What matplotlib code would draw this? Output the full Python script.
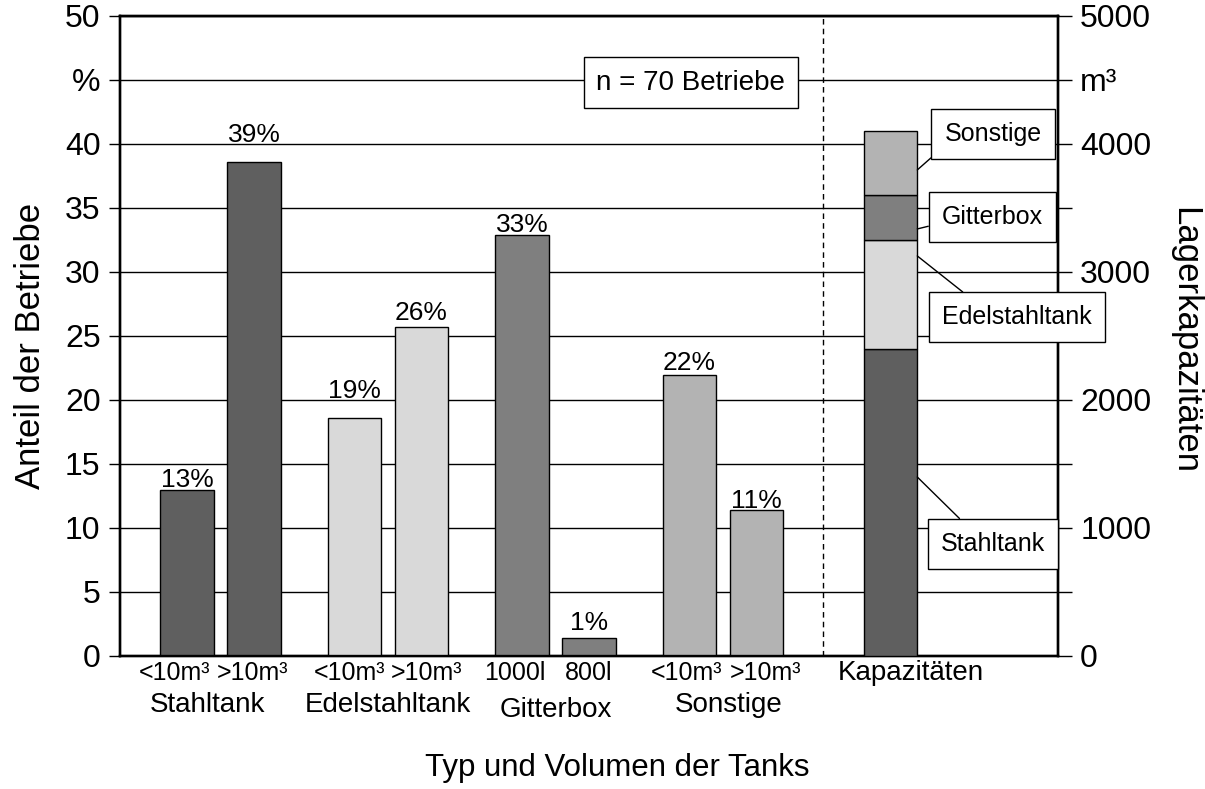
import matplotlib
matplotlib.use("Agg")
import matplotlib.pyplot as plt
import numpy as np

plt.rcParams['font.family'] = ['Liberation Sans', 'DejaVu Sans']

# Data: share of farms (%) per tank type and volume
groups = ['Stahltank', 'Edelstahltank', 'Gitterbox', 'Sonstige']
sub_labels = ['<10m³', '>10m³', '<10m³', '>10m³', '1000l', '800l', '<10m³', '>10m³']
shares = [13.0, 38.6, 18.6, 25.7, 32.9, 1.4, 21.95, 11.4]

# Storage capacity (m³), stacked in this order
cap_types = ['Stahltank', 'Edelstahltank', 'Gitterbox', 'Sonstige']
capacity = [2400, 850, 350, 500]

colors = {'Stahltank': '#5f5f5f', 'Edelstahltank': '#d9d9d9',
          'Gitterbox': '#7f7f7f', 'Sonstige': '#b3b3b3'}

# layout
group_start = np.array([0.0, 2.5, 5.0, 7.5])
bar_x = np.concatenate([[g, g + 1] for g in group_start])
bar_colors = [colors[g] for g in groups for _ in range(2)]
kap_x = 10.5
width = 0.8
label_off = [1.5, 14, 14, 5, 2, 6, 3.5, 1.5]
sub_nudge = [-0.19, -0.02, -0.08, 0.07, -0.11, -0.01, -0.05, 0.14]
group_nudge = [-0.19, 0.0, 0.0, 0.09]
group_dy = [35, 35, 39, 35]

fig = plt.figure(figsize=(12.05, 7.89), dpi=100)
ax = fig.add_axes([0.0996, 0.1686, 0.7784, 0.8112])
ax2 = ax.twinx()

ax.set_xlim(-1, 13)
ax.set_ylim(0, 50)
ax2.set_ylim(0, 5000)

ax.set_axisbelow(True)
ax.yaxis.grid(True, color='black', linewidth=1.0)

bars = ax.bar(bar_x, shares, width=width, color=bar_colors,
              edgecolor='black', linewidth=1.0, zorder=3)
for x, v, off in zip(bar_x, shares, label_off):
    ax.annotate(f'{round(v)}%', (x, v), xytext=(0, off), textcoords='offset points',
                ha='center', va='baseline', fontsize=19, zorder=4)

# stacked capacity bar on the right axis
bottom = 0
for t, c in zip(cap_types, capacity):
    ax2.bar(kap_x, c, width=width, bottom=bottom, color=colors[t],
            edgecolor='black', linewidth=1.0, zorder=3)
    bottom += c

# callout boxes: (type, anchor value on bar, text pos, relpos)
callouts = [
    ('Sonstige', 3797, (12.03, 4078), (0.0, 0.0)),
    ('Gitterbox', 3336, (12.02, 3426), (0.0, 0.27)),
    ('Edelstahltank', 3125, (12.39, 2645), (0.25, 1.0)),
    ('Stahltank', 1398, (12.03, 875), (0.31, 1.0)),
]
for name, yv, pos, rp in callouts:
    ax2.annotate(name, (kap_x + width / 2, yv), xytext=pos, textcoords='data',
                 ha='center', va='center', fontsize=18, annotation_clip=False,
                 bbox=dict(boxstyle='square,pad=0.52', fc='white', ec='black', lw=1.0),
                 arrowprops=dict(arrowstyle='-', color='black', lw=1.0,
                                 shrinkA=0, shrinkB=0, relpos=rp),
                 zorder=6)

ax.axvline(9.5, color='black', linestyle=(0, (4, 3)), linewidth=1.0, zorder=2)

ax.text(7.52, 44.8, 'n = 70 Betriebe', ha='center', va='center', fontsize=20,
        bbox=dict(boxstyle='square,pad=0.45', fc='white', ec='black', lw=1.0), zorder=5)

# y ticks
yt = np.arange(0, 51, 5)
ax.set_yticks(yt)
ax.set_yticklabels(['%' if v == 45 else str(v) for v in yt])
rt = np.arange(0, 5001, 500)
ax2.set_yticks(rt)
ax2.set_yticklabels(['m³' if v == 4500 else (str(v) if v % 1000 == 0 else '') for v in rt])
ax.tick_params(axis='y', labelsize=23, length=8, width=1.0, direction='out', pad=6)
ax2.tick_params(axis='y', labelsize=23, length=10, width=1.0, direction='out', pad=6)

# x labels
ax.set_xticks([])
for x, s, dx in zip(bar_x, sub_labels, sub_nudge):
    ax.annotate(s, (x + dx, 0), xycoords=('data', 'axes fraction'), xytext=(0, -12),
                textcoords='offset points', ha='center', va='center', fontsize=18)
for g, gx, dx, dy in zip(groups, group_start, group_nudge, group_dy):
    ax.annotate(g, (gx + 0.5 + dx, 0), xycoords=('data', 'axes fraction'), xytext=(0, -dy),
                textcoords='offset points', ha='center', va='center', fontsize=20)
ax.annotate('Kapazitäten', (kap_x + 0.3, 0), xycoords=('data', 'axes fraction'),
            xytext=(0, -12), textcoords='offset points', ha='center', va='center', fontsize=20)

for a in (ax, ax2):
    for sp in a.spines.values():
        sp.set_linewidth(1.7)
        sp.set_color('black')

fig.text(0.512, 0.027, 'Typ und Volumen der Tanks', ha='center', va='center', fontsize=22.5)
fig.text(0.025, 0.562, 'Anteil der Betriebe', ha='center', va='center', rotation=90, fontsize=25)
fig.text(0.983, 0.568, 'Lagerkapazitäten', ha='center', va='center', rotation=270, fontsize=25)

fig.savefig('out.png', dpi=100)
